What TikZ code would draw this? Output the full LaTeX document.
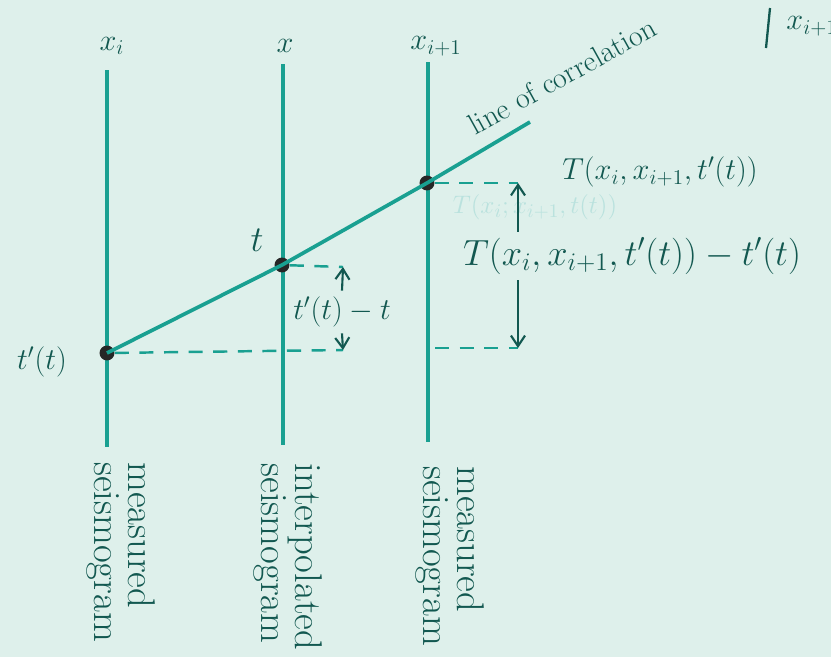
\documentclass[tikz,border=0pt]{standalone}
\usepackage{tikz}
\usetikzlibrary{arrows.meta}
\definecolor{paper}{RGB}{222,240,235}
\definecolor{ink}{RGB}{25,160,145}
\definecolor{dark}{RGB}{18,88,80}

\begin{document}
\begin{tikzpicture}[x=0.02cm,y=-0.02cm,every node/.style={font=\fontsize{17}{19}\selectfont,text=dark},
    seis/.style={ink,line width=2.1pt},
    lvl/.style={ink,line width=1.4pt,dash pattern=on 8pt off 6pt},
    tick/.style={dark,line width=1.2pt,-{Straight Barb[length=6pt,width=8pt]}},
    dot/.style={circle,fill=black!85,inner sep=0pt,minimum size=8.5pt},
    tracename/.style={rotate=-90,align=left,font=\fontsize{22}{19}\selectfont}]
                \fill[paper] (0,0) rectangle (831,657);
                \useasboundingbox (0,0) rectangle (831,657);
                % the three traces
                \node (xa) at (112,46) {$x_i$};
                \node (xb) at (285,46) {$x$};
                \node (xc) at (436,46) {$x_{i+1}$};
                \coordinate (ta) at (107,70);  \coordinate (ba) at (107,447);
                \coordinate (tb) at (283,64);  \coordinate (bb) at (283,445);
                \coordinate (tc) at (428,62);  \coordinate (bc) at (428,442);
                \draw[seis] (ta) -- (ba);
                \draw[seis] (tb) -- (bb);
                \draw[seis] (tc) -- (bc);
                % picks and line of correlation
                \node[dot] (pa) at (107,353) {};
                \node[dot] (pb) at (282,265) {};
                \node[dot] (pc) at (427,183) {};
                \coordinate (pend) at (530,122);
                \draw[seis] (pa.center) -- (pb.center) -- (pc.center) -- (pend);
                \node[rotate=29] (corr) at (562,76) {line of correlation};
                \node (ltp) at (42,362) {$t'(t)$};
                \node[font=\fontsize{20}{22}\selectfont] (lt) at (257,240) {$t$};
                % time levels
                \coordinate (top1) at (343,267);
                \coordinate (bot1) at (343,350);
                \coordinate (top2) at (518,183);
                \coordinate (bot2) at (518,348);
                \coordinate (mid2) at (435,348);
                \draw[lvl] (pa) -- (bot1);
                \draw[lvl] (mid2) -- (bot2);
                \draw[lvl] (pb) -- (top1);
                \draw[lvl] (pc) -- (top2);
                \node (dt) at (342,312) {$t'(t)-t$};
                \draw[tick] (dt.north) -- (top1);
                \draw[tick] (dt.south) -- (bot1);
                \node (tT) at (660,172) {$T(x_i,x_{i+1},t'(t))$};
                \node[text=ink!30,font=\fontsize{15}{17}\selectfont] (ghost) at (535,207) {$T(x_i;x_{i+1},t(t))$};
                \node[font=\fontsize{21}{23}\selectfont] (dT) at (632,256) {$T(x_i,x_{i+1},t'(t))-t'(t)$};
                \draw[tick] (dT.north -| top2) -- (top2);
                \draw[tick] (dT.south -| bot2) -- (bot2);
                % trace names
                \node[tracename] (na) at (121,552) {measured\\seismogram};
                \node[tracename] (nb) at (288,557) {interpolated\\seismogram};
                \node[tracename] (nc) at (450,556) {measured\\seismogram};
                % cut off at the edge
                \coordinate (ea) at (770,8);
                \coordinate (eb) at (766,48);
                \draw[dark,line width=1.3pt] (ea) -- (eb);
                \node (xe) at (812,26) {$x_{i+1}$};
\end{tikzpicture}
\end{document}
